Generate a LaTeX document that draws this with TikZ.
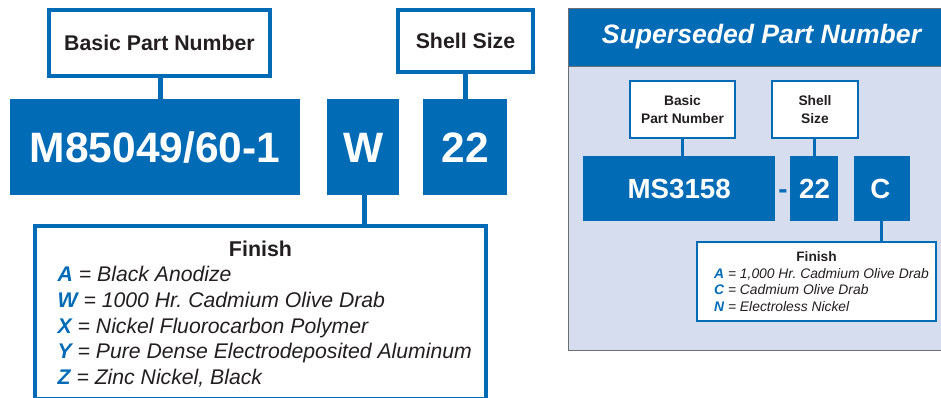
\documentclass[tikz,border=0pt]{standalone}
\usepackage{fontspec}
\setmainfont{Liberation Sans}
\definecolor{brandblue}{HTML}{026BB6}
\definecolor{panelfill}{HTML}{D5DDEF}
\definecolor{inkdark}{HTML}{231F20}
\definecolor{panelline}{HTML}{6D6E71}
\tikzset{
  solidbox/.style={draw=none,fill=brandblue,inner sep=0pt,text=white,align=center,text depth=0pt},
  outlinebox/.style={draw=brandblue,fill=white,inner sep=0pt,text=inkdark,align=center,text depth=0pt},
  bigline/.style={line width=4pt},
  smallline/.style={line width=2.4pt},
  labelbig/.style={outlinebox,bigline,font=\fontsize{21.3}{25}\selectfont\bfseries,text height=15.3pt},
  labelsmall/.style={outlinebox,smallline,font=\fontsize{13.8}{17.6}\selectfont\bfseries,text height=27.5pt},
  codebig/.style={solidbox,font=\fontsize{42.5}{50}\selectfont\bfseries,text height=30.4pt},
  codesmall/.style={solidbox,font=\fontsize{27.7}{32}\selectfont\bfseries,text height=19.8pt},
  connbig/.style={draw=brandblue,line width=5pt},
  connsmall/.style={draw=brandblue,line width=3pt},
  headbig/.style={anchor=base,inner sep=0pt,text=inkdark,font=\fontsize{21.4}{25}\selectfont\bfseries},
  headsmall/.style={anchor=base,inner sep=0pt,text=inkdark,font=\fontsize{13.7}{16}\selectfont\bfseries},
  itembig/.style={anchor=base west,inner sep=0pt,text=inkdark,font=\frenchspacing\fontsize{21.2}{25}\selectfont\itshape},
  itemsmall/.style={anchor=base west,inner sep=0pt,text=inkdark,font=\frenchspacing\fontsize{13.85}{16}\selectfont\itshape},
}
\newcommand{\keyletter}[1]{\textcolor{brandblue}{\bfseries #1}}
\begin{document}
\begin{tikzpicture}[x=1pt,y=-1pt]
\useasboundingbox (0,0) rectangle (941,398);
\clip (0,0) rectangle (941,398);
\fill[white] (0,0) rectangle (941,398);
% left part
\node[labelbig,minimum width=221pt,minimum height=66pt] (basic) at (159.5,43) {Basic Part Number};
\node[labelbig,minimum width=135pt,minimum height=62pt] (shell) at (465.5,41) {Shell Size};
\node[codebig,minimum width=290pt,minimum height=96pt] (m85) at (155,147) {M85049/60-1};
\node[codebig,minimum width=72pt,minimum height=96pt] (w) at (363,147) {\kern1.5pt W};
\node[codebig,minimum width=84pt,minimum height=96pt] (s22) at (465,147) {22};
\node[outlinebox,bigline,minimum width=451pt,minimum height=172.5pt] (finish) at (260.5,312.25) {};
\coordinate (cb) at (160,0);
\coordinate (cs) at (465,0);
\coordinate (cw) at (364.5,0);
\draw[connbig] (basic.south -| cb) -- (m85.north -| cb);
\draw[connbig] (shell.south -| cs) -- (s22.north -| cs);
\draw[connbig] (w.south -| cw) -- (finish.north -| cw);
\node[headbig] (finishhead) at (260.5,256) {Finish};
\node[itembig] (fa) at (57.5,281.5) {\keyletter{A} = Black Anodize};
\node[itembig] (fw) at (57.5,307) {\keyletter{W} = 1000 Hr. Cadmium Olive Drab};
\node[itembig] (fx) at (57.5,333) {\keyletter{X} = Nickel Fluorocarbon Polymer};
\node[itembig] (fy) at (57.5,358.7) {\keyletter{Y} = Pure Dense Electrodeposited Aluminum};
\node[itembig] (fz) at (57.5,384) {\keyletter{Z} = Zinc Nickel, Black};
% right panel
\node[draw=panelline,fill=panelfill,line width=1pt,inner sep=0pt,minimum width=400pt,minimum height=342pt] (panel) at (768,179.5) {};
\node[draw=panelline,fill=brandblue,line width=1pt,inner sep=0pt,minimum width=400pt,minimum height=58pt,text=white] (header) at (768,37.5) {};
\node[anchor=base,inner sep=0pt,text=white,font=\fontsize{26.6}{30}\selectfont\bfseries\itshape] (title) at (761.5,43.5) {Superseded Part Number};
\node[labelsmall,minimum width=105pt,minimum height=57pt] (basic2) at (682.5,109.5) {Basic\\Part Number};
\node[labelsmall,minimum width=86pt,minimum height=57pt] (shell2) at (815,109.5) {Shell\\Size};
\node[codesmall,minimum width=191.5pt,minimum height=65pt] (ms) at (679.2,188.5) {MS3158};
\node[codesmall,minimum width=48pt,minimum height=65pt] (s222) at (814,188.5) {\kern1pt 22};
\node[codesmall,minimum width=56pt,minimum height=65pt] (c) at (882,188.5) {C\kern3.5pt};
\node[anchor=base,inner sep=0pt,text=brandblue,font=\fontsize{27.7}{32}\selectfont\bfseries] (dash) at (783,198) {-};
\node[labelsmall,minimum width=239pt,minimum height=79pt] (finish2) at (816.7,281.2) {};
\coordinate (cb2) at (682.5,0);
\coordinate (cs2) at (814.5,0);
\coordinate (cc2) at (881,0);
\draw[connsmall] (basic2.south -| cb2) -- (ms.north -| cb2);
\draw[connsmall] (shell2.south -| cs2) -- (s222.north -| cs2);
\draw[connsmall] (c.south -| cc2) -- (finish2.north -| cc2);
\node[headsmall] (finishhead2) at (816.5,261) {Finish};
\node[itemsmall] (ga) at (714,278) {\keyletter{A} = 1,000 Hr. Cadmium Olive Drab};
\node[itemsmall] (gc) at (714,294.5) {\keyletter{C} = Cadmium Olive Drab};
\node[itemsmall] (gn) at (714,311) {\keyletter{N} = Electroless Nickel};
\end{tikzpicture}
\end{document}
